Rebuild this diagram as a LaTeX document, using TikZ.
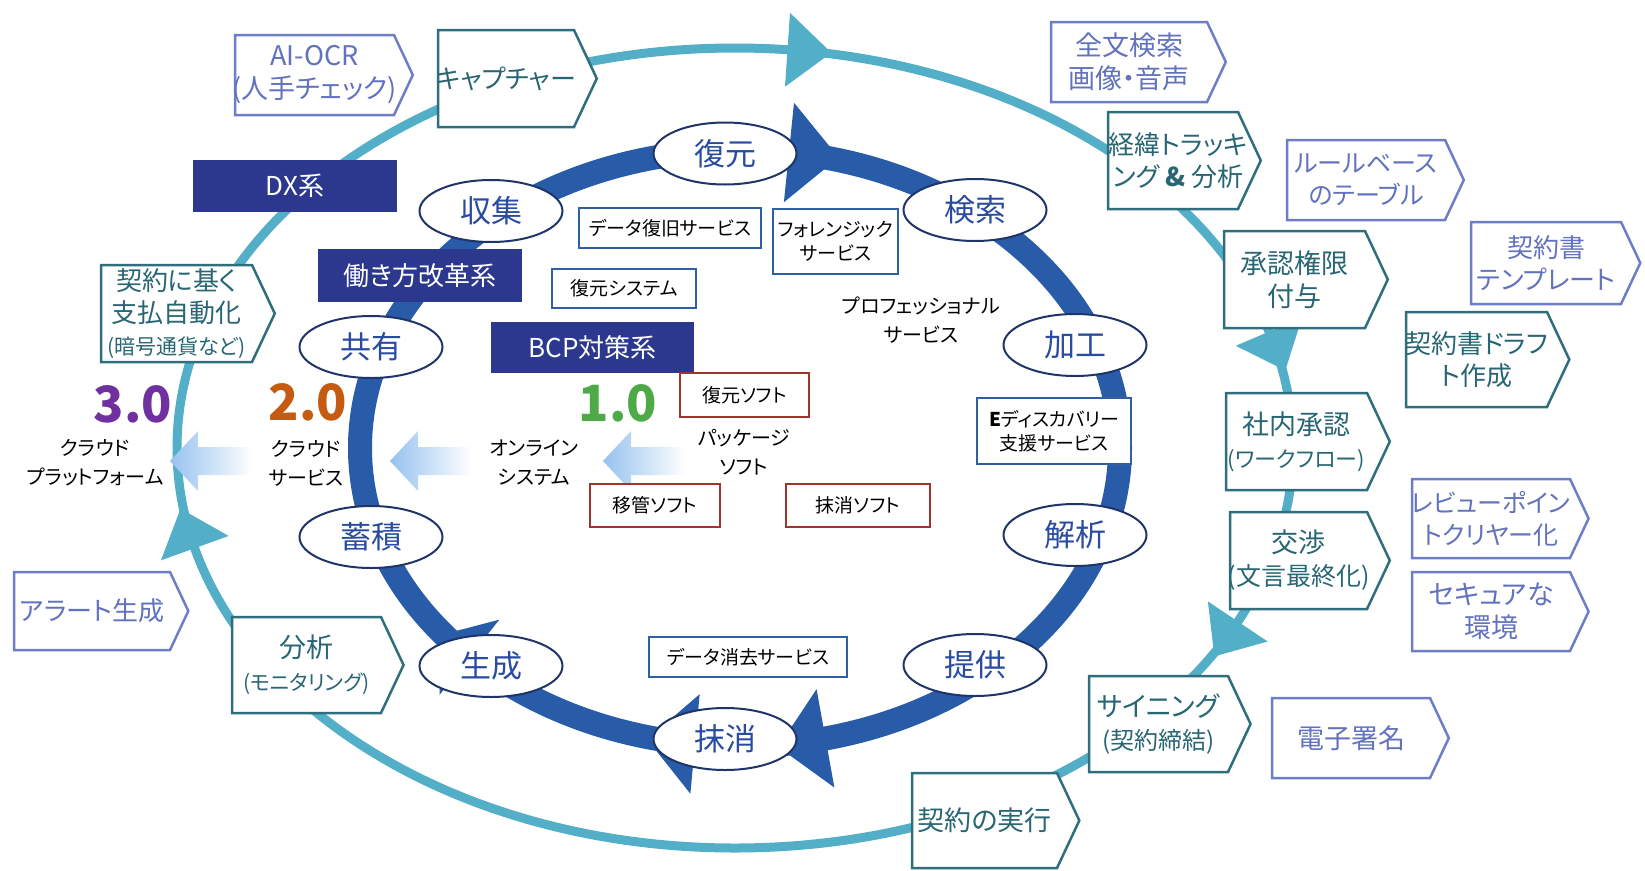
\documentclass[tikz,border=0pt]{standalone}
\usepackage{fontspec}
\setmainfont{Noto Sans CJK JP}[RawFeature=+palt]
\usetikzlibrary{shapes.geometric}

\definecolor{ringteal}{RGB}{83,174,200}
\definecolor{ringblue}{RGB}{40,92,168}
\definecolor{ovalline}{RGB}{31,52,104}
\definecolor{ovaltext}{RGB}{42,76,160}
\definecolor{navybox}{RGB}{44,56,142}
\definecolor{tealline}{RGB}{47,110,124}
\definecolor{tealtext}{RGB}{40,102,116}
\definecolor{periline}{RGB}{110,126,198}
\definecolor{peritext}{RGB}{98,114,190}
\definecolor{svcline}{RGB}{46,96,162}
\definecolor{softline}{RGB}{160,52,46}
\definecolor{verthree}{RGB}{112,48,160}
\definecolor{vertwo}{RGB}{197,90,17}
\definecolor{verone}{RGB}{78,170,70}
\definecolor{fadeblue}{RGB}{150,194,240}

% pentagon tag: style, left, right, top, bottom
\newcommand{\tagpath}[5]{%
  \filldraw[#1] (#2,#4) -- (#3,#4) -- ({#3+0.235*(#5-#4)},{(#4+#5)/2}) -- (#3,#5) -- (#2,#5) -- cycle;}
% arrow head on a ring: colour, cx, cy, rx, ry, angle, half width, depth
\newcommand{\ringhead}[8]{%
  \pgfmathsetmacro{\hx}{#2+#4*cos(#6)}%
  \pgfmathsetmacro{\hy}{#3+#5*sin(#6)}%
  \pgfmathsetmacro{\ha}{atan2(#5*cos(#6),-#4*sin(#6))}%
  \fill[#1] ({\hx+#7*cos(\ha+90)},{\hy+#7*sin(\ha+90)}) -- ({\hx+#7*cos(\ha-90)},{\hy+#7*sin(\ha-90)})
    -- ({\hx+#8*cos(\ha)},{\hy+#8*sin(\ha)}) -- cycle;}

\begin{document}
\begin{tikzpicture}[x=1pt,y=-1pt,
  oval/.style={ellipse, draw=ovalline, line width=2, fill=white, minimum width=143, minimum height=62,
    inner sep=0, text=ovaltext, font=\fontsize{31}{31}\selectfont},
  navy/.style={fill=navybox, text=white, minimum width=204, minimum height=52, font=\fontsize{26}{26}\selectfont},
  svc/.style={draw=svcline, line width=1.6, fill=white, inner sep=0, align=center, font=\fontsize{19}{24}\selectfont},
  soft/.style={draw=softline, line width=1.6, fill=white, inner sep=0, font=\fontsize{19}{24}\selectfont},
  tealtag/.style={draw=tealline, line width=2.5, fill=white},
  peritag/.style={draw=periline, line width=2.5, fill=white},
  tealtxt/.style={text=tealtext, align=center, inner sep=0, font=\fontsize{27}{33}\selectfont},
  peritxt/.style={text=peritext, align=center, inner sep=0, font=\fontsize{27}{33}\selectfont},
  plain/.style={align=center, inner sep=0, font=\fontsize{20}{29}\selectfont},
  ver/.style={inner sep=0, font=\fontsize{50}{50}\selectfont\bfseries}]
\useasboundingbox (0,0) rectangle (1645,870);

% outer cycle
\draw[ringteal, line width=9] (735,448) ellipse [x radius=558, y radius=400];
\ringhead{ringteal}{735}{448}{558}{400}{-84.6}{37}{44}
\ringhead{ringteal}{735}{448}{558}{400}{-16.9}{36}{42}
\ringhead{ringteal}{735}{448}{558}{400}{25.7}{36}{42}
\ringhead{ringteal}{735}{448}{558}{400}{165.5}{36}{42}

% inner cycle
\draw[ringblue, line width=24] (740,448) ellipse [x radius=380, y radius=298];
\ringhead{ringblue}{740}{448}{380}{298}{-82.6}{50}{50}
\ringhead{ringblue}{740}{448}{380}{298}{77}{50}{48}
\ringhead{ringblue}{740}{448}{380}{298}{96.8}{50}{48}
\ringhead{ringblue}{740}{448}{380}{298}{135.4}{48}{36}

% fading arrows
\shade[left color=fadeblue, middle color=fadeblue!60, right color=white]
  (170,461) -- ++(28,-30) -- ++(0,16) -- ++(54,0) -- ++(0,28) -- ++(-54,0) -- ++(0,16) -- cycle;
\shade[left color=fadeblue, middle color=fadeblue!60, right color=white]
  (390,461) -- ++(28,-30) -- ++(0,16) -- ++(54,0) -- ++(0,28) -- ++(-54,0) -- ++(0,16) -- cycle;
\shade[left color=fadeblue, middle color=fadeblue!60, right color=white]
  (603,461) -- ++(28,-30) -- ++(0,16) -- ++(54,0) -- ++(0,28) -- ++(-54,0) -- ++(0,16) -- cycle;

% tags on the outer cycle
\tagpath{tealtag}{438}{574}{30}{127}
\node[tealtxt, font=\fontsize{26}{32}\selectfont] (capture) at (506,78.5) {キャプチャー};
\tagpath{tealtag}{1108}{1238}{112}{209}
\node[tealtxt, font=\fontsize{26}{32}\selectfont] (track) at (1178,160.5) {経緯トラッキ\\ング \textbf{\&} 分析};
\tagpath{tealtag}{1224}{1365}{231}{328}
\node[tealtxt] (grant) at (1294.5,279.5) {承認権限\\付与};
\tagpath{tealtag}{1226}{1367}{393}{490}
\node[tealtxt] (approve) at (1296.5,441.5) {社内承認\\{\fontsize{22}{28}\selectfont (ワークフロー)}};
\tagpath{tealtag}{1230}{1367}{512}{609}
\node[tealtxt] (nego) at (1298.5,560.5) {交渉\\{\fontsize{25}{30}\selectfont (文言最終化)}};
\tagpath{tealtag}{1089}{1228}{676}{772}
\node[tealtxt] (sign) at (1158.5,724) {サイニング\\{\fontsize{24}{30}\selectfont (契約締結)}};
\tagpath{tealtag}{912}{1057}{773}{868}
\node[tealtxt] (exec) at (984.5,820.5) {契約の実行};
\tagpath{tealtag}{232}{381}{617}{713}
\node[tealtxt] (monitor) at (306.5,665) {分析\\{\fontsize{21}{28}\selectfont (モニタリング)}};
\tagpath{tealtag}{101}{252}{265}{362}
\node[tealtxt, font=\fontsize{26}{32}\selectfont] (pay) at (176.5,313.5) {契約に基く\\支払自動化\\{\fontsize{21}{28}\selectfont (暗号通貨など)}};
\tagpath{tealtag}{1406}{1547}{312}{407}
\node[tealtxt, font=\fontsize{26}{32}\selectfont] (draft) at (1476.5,359.5) {契約書ドラフ\\ト作成};

% tags outside
\tagpath{peritag}{235}{394}{35}{115}
\node[peritxt] (aiocr) at (314.5,75) {AI-OCR\\(人手チェック)};
\tagpath{peritag}{1051}{1207}{22}{102}
\node[peritxt] (fulltext) at (1129,62) {全文検索\\画像・音声};
\tagpath{peritag}{1287}{1445}{140}{220}
\node[peritxt, font=\fontsize{25}{32}\selectfont] (rule) at (1366,180) {ルールベース\\のテーブル};
\tagpath{peritag}{1471}{1621}{222}{304}
\node[peritxt, font=\fontsize{26}{32}\selectfont] (templ) at (1546,263) {契約書\\テンプレート};
\tagpath{peritag}{1412}{1570}{479}{558}
\node[peritxt, font=\fontsize{25}{32}\selectfont] (review) at (1491,518.5) {レビューポイン\\トクリヤー化};
\tagpath{peritag}{1412}{1570}{572}{651}
\node[peritxt] (secure) at (1491,611.5) {セキュアな\\環境};
\tagpath{peritag}{1272}{1430}{698}{778}
\node[peritxt] (esig) at (1351,738) {電子署名};
\tagpath{peritag}{14}{170}{572}{650}
\node[peritxt, font=\fontsize{26}{32}\selectfont] (alert) at (92,611) {アラート生成};

% steps of the inner cycle
\node[oval] (fukugen) at (725,153.5) {復元};
\node[oval] (shushu) at (491,211) {収集};
\node[oval] (kensaku) at (975,210) {検索};
\node[oval] (kyoyu) at (371,347) {共有};
\node[oval] (kako) at (1075,345) {加工};
\node[oval] (chikuseki) at (371,537) {蓄積};
\node[oval] (kaiseki) at (1075,535) {解析};
\node[oval] (seisei) at (491,666) {生成};
\node[oval] (teikyo) at (975,665) {提供};
\node[oval] (masshou) at (725,739) {抹消};

% groups
\node[navy] (dx) at (295,186) {DX系};
\node[navy, minimum height=53] (workstyle) at (420,275.5) {働き方改革系};
\node[navy, minimum width=203, minimum height=51] (bcp) at (592.5,347.5) {BCP対策系};

% services
\node[svc, minimum width=182, minimum height=40] (recsvc) at (670,228) {データ復旧サービス};
\node[svc, minimum width=125, minimum height=65] (forensic) at (835.5,241.5) {フォレンジック\\サービス};
\node[svc, minimum width=144, minimum height=39] (recsys) at (624,288.5) {復元システム};
\node[svc, minimum width=154, minimum height=66] (ediscovery) at (1054,431) {\textbf{E}ディスカバリー\\支援サービス};
\node[svc, minimum width=198, minimum height=40] (erasesvc) at (748,657) {データ消去サービス};

% software
\node[soft, minimum width=129, minimum height=44] (recsoft) at (744.5,395) {復元ソフト};
\node[soft, minimum width=130, minimum height=43] (movesoft) at (655,505.5) {移管ソフト};
\node[soft, minimum width=144, minimum height=43] (erasesoft) at (858,505.5) {抹消ソフト};

% generations
\node[plain] (pro) at (921,320) {プロフェッショナル\\サービス};
\node[plain] (package) at (744,452) {パッケージ\\ソフト};
\node[plain] (online) at (534,463) {オンライン\\システム};
\node[plain] (cloudsvc) at (306,463) {クラウド\\サービス};
\node[plain] (cloudpf) at (95,463) {クラウド\\プラットフォーム};
\node[ver, text=verthree] (v3) at (133,404) {3.0};
\node[ver, text=vertwo] (v2) at (308,402) {2.0};
\node[ver, text=verone] (v1) at (618,403) {1.0};
\end{tikzpicture}
\end{document}
